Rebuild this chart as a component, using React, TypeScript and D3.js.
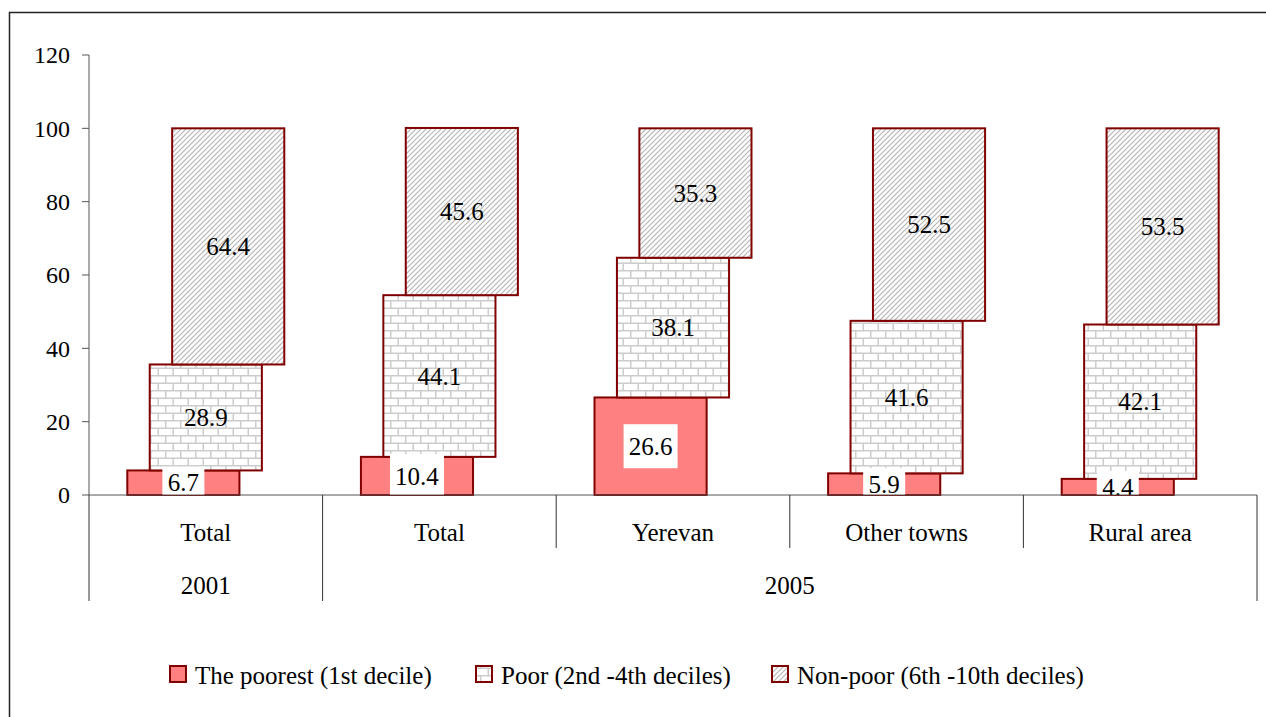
import React from 'react';
import * as d3 from 'd3';

const categories = ['Total', 'Total', 'Yerevan', 'Other towns', 'Rural area'];
const groups = [
  { label: '2001', from: 0, to: 0 },
  { label: '2005', from: 1, to: 4 },
];
const seriesNames = [
  'The poorest (1st decile)',
  'Poor (2nd -4th deciles)',
  'Non-poor (6th -10th deciles)',
];
const poorest = [6.7, 10.4, 26.6, 5.9, 4.4];
const poor = [28.9, 44.1, 38.1, 41.6, 42.1];
const nonPoor = [64.4, 45.6, 35.3, 52.5, 53.5];
const yTicks = [0, 20, 40, 60, 80, 100, 120];

const W = 1266;
const H = 717;
const plot = { left: 89, right: 1257, top: 55, bottom: 495 };
const font = "'Liberation Serif', 'Times New Roman', 'DejaVu Serif', serif";
const border = '#800000';
const fills = ['#ff8080', 'url(#brick)', 'url(#hatch)'];

const App = () => {
  const x = d3
    .scaleBand<number>()
    .domain(categories.map((_, i) => i))
    .range([plot.left, plot.right])
    .padding(0);
  const y = d3.scaleLinear().domain([0, 120]).range([plot.bottom, plot.top]);
  const bw = x.bandwidth();
  const barW = bw * 0.48;
  const step = bw * 0.096;

  const rows = categories.map((c, i) => ({ i, s0: poorest[i], s1: poor[i], s2: nonPoor[i] }));
  const stacked = d3.stack<any>().keys(['s0', 's1', 's2'])(rows);

  const barX = (i: number, k: number) => (x(i) as number) + bw / 2 + (k - 1) * step - barW / 2;

  const legendX = [170, 476, 772];
  const txt = { fontFamily: font, fontSize: 25, fill: '#000' };
  const tickTxt = { fontFamily: font, fontSize: 24, fill: '#000' };

  return (
    <svg
      width={W}
      height={H}
      style={{ position: 'absolute', left: 0, top: 0, background: '#fff', fontFamily: font }}
    >
      <defs>
        <pattern id="hatch" patternUnits="userSpaceOnUse" width={5} height={5}>
          <rect width={5} height={5} fill="#fff" />
          <path d="M-1,1 l2,-2 M0,5 l5,-5 M4,6 l2,-2" stroke="#b4b4b4" strokeWidth={1.1} />
        </pattern>
        <pattern id="brick" patternUnits="userSpaceOnUse" width={15} height={15}>
          <rect width={15} height={15} fill="#fff" />
          <path
            d="M0,0.75 H15 M0,8.25 H15 M0.75,0 V7.5 M8.25,7.5 V15"
            stroke="#cccccc"
            strokeWidth={1.5}
          />
        </pattern>
        <clipPath id="plotClip">
          <rect x={plot.left} y={0} width={plot.right - plot.left} height={plot.bottom} />
        </clipPath>
      </defs>

      <rect x={9.5} y={12.5} width={1300} height={800} fill="none" stroke="#222" strokeWidth={1.5} />

      {/* y axis */}
      <line x1={plot.left} x2={plot.left} y1={y(120)} y2={plot.bottom} stroke="#555" />
      {yTicks.map((t) => (
        <g key={t}>
          <line x1={plot.left - 7} x2={plot.left} y1={y(t)} y2={y(t)} stroke="#555" />
          <text x={70} y={y(t)} dy="0.35em" textAnchor="end" style={tickTxt}>
            {t}
          </text>
        </g>
      ))}

      {/* bars */}
      {stacked.map((layer, k) =>
        layer.map((d, i) => (
          <rect
            key={`${k}-${i}`}
            x={barX(i, k)}
            y={y(d[1])}
            width={barW}
            height={y(d[0]) - y(d[1])}
            fill={fills[k]}
            stroke={border}
            strokeWidth={2}
          />
        ))
      )}

      {/* labels for upper series */}
      {stacked.slice(1).map((layer, kk) =>
        layer.map((d, i) => (
          <text
            key={`l${kk}-${i}`}
            x={barX(i, kk + 1) + barW / 2}
            y={y((d[0] + d[1]) / 2)}
            dy="0.35em"
            textAnchor="middle"
            style={txt}
          >
            {(kk === 0 ? poor : nonPoor)[i]}
          </text>
        ))
      )}

      {/* poorest labels with white boxes */}
      <g clipPath="url(#plotClip)">
        {stacked[0].map((d, i) => {
          const cx = barX(i, 0) + barW / 2;
          const cy = y((d[0] + d[1]) / 2);
          const label = String(poorest[i]);
          const w = label.length * 12 + 6;
          const h = d[1] < 8 ? 32 : 44;
          return (
            <g key={`p${i}`}>
              <rect x={cx - w / 2} y={cy - h / 2} width={w} height={h} fill="#fff" />
              <text x={cx} y={cy} dy="0.35em" textAnchor="middle" style={txt}>
                {label}
              </text>
            </g>
          );
        })}
      </g>

      {/* x axis */}
      <line x1={plot.left} x2={plot.right} y1={plot.bottom} y2={plot.bottom} stroke="#555" />
      {categories.map((c, i) => (
        <text
          key={`c${i}`}
          x={(x(i) as number) + bw / 2}
          y={532}
          dy="0.35em"
          textAnchor="middle"
          style={txt}
        >
          {c}
        </text>
      ))}
      {d3.range(categories.length + 1).map((i) => {
        const xx = i < categories.length ? (x(i) as number) : plot.right;
        const isGroupEdge = groups.some((g) => g.from === i || g.to + 1 === i);
        return (
          <line
            key={`s${i}`}
            x1={xx}
            x2={xx}
            y1={plot.bottom}
            y2={isGroupEdge ? 601 : 548}
            stroke="#333"
          />
        );
      })}
      {groups.map((g) => {
        const x0 = x(g.from) as number;
        const x1 = (x(g.to) as number) + bw;
        return (
          <text key={g.label} x={(x0 + x1) / 2} y={585} dy="0.35em" textAnchor="middle" style={txt}>
            {g.label}
          </text>
        );
      })}

      {/* legend */}
      {seriesNames.map((s, k) => (
        <g key={s}>
          <rect
            x={legendX[k]}
            y={666}
            width={16}
            height={16}
            fill={fills[k]}
            stroke={border}
            strokeWidth={2}
          />
          <text x={legendX[k] + 25} y={675} dy="0.35em" style={txt}>
            {s}
          </text>
        </g>
      ))}
    </svg>
  );
};

export default App;
